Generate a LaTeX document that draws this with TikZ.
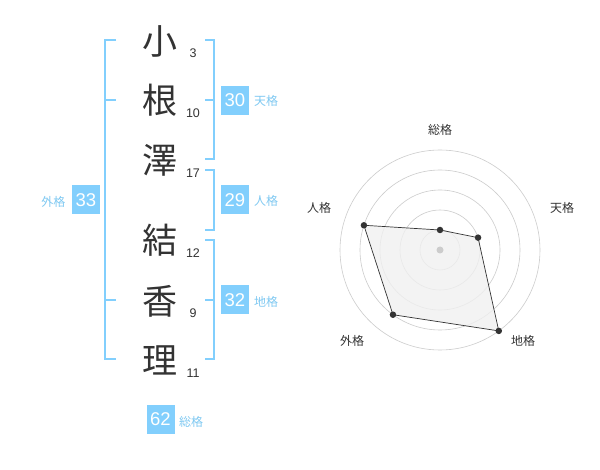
\documentclass[tikz,border=0pt]{standalone}
\usepackage{fontspec}
\setmainfont{Liberation Sans}
\newfontfamily\cjk{Noto Sans CJK JP}
\definecolor{skyb}{HTML}{82CFFD}
\definecolor{skyt}{HTML}{7FC9F2}
\definecolor{inkc}{HTML}{333333}
\definecolor{ringc}{HTML}{CCCCCC}
\definecolor{polyf}{HTML}{F0F0F0}
\tikzset{
  kanji/.style={text=inkc,font=\cjk\fontsize{35}{35}\selectfont,inner sep=0pt},
  stroke/.style={text=inkc,font=\fontsize{12.5}{12.5}\selectfont,inner sep=0pt},
  scorebox/.style={fill=skyb,text=white,minimum width=28pt,minimum height=29pt,inner sep=0pt,font=\fontsize{18.5}{18.5}\selectfont},
  kaku/.style={text=skyt,font=\cjk\fontsize{12}{12}\selectfont,inner sep=0pt},
  brk/.style={draw=skyb,line width=2pt},
  radarlab/.style={text=inkc,font=\cjk\fontsize{12}{12}\selectfont,inner sep=0pt},
  ring/.style={draw=ringc,line width=0.6pt},
  dot/.style={circle,fill=inkc,inner sep=0pt,minimum size=6.5pt},
}
\begin{document}
\begin{tikzpicture}[x=1pt,y=-1pt]
\useasboundingbox (0,0) rectangle (600,470);
\fill[white] (0,0) rectangle (600,470);
% characters
\node[kanji] (c1) at (160,41) {小};
\node[kanji] (c2) at (160,100) {根};
\node[kanji] (c3) at (160,160) {澤};
\node[kanji] (c4) at (160,240) {結};
\node[kanji] (c5) at (160,301) {香};
\node[kanji] (c6) at (160,360) {理};
\node[stroke] (n1) at (193,53) {3};
\node[stroke] (n2) at (193,113) {10};
\node[stroke] (n3) at (193,173) {17};
\node[stroke] (n4) at (193,253) {12};
\node[stroke] (n5) at (193,313) {9};
\node[stroke] (n6) at (193,373) {11};
% brackets
\draw[brk] (116,40) -- (105,40) -- (105,359) -- (116,359);
\draw[brk] (105,100) -- (116,100);
\draw[brk] (105,300) -- (116,300);
\draw[brk] (205,40) -- (214,40) -- (214,159) -- (205,159);
\draw[brk] (205,100) -- (214,100);
\draw[brk] (205,170) -- (214,170) -- (214,230) -- (205,230);
\draw[brk] (205,240) -- (214,240) -- (214,359) -- (205,359);
\draw[brk] (205,300) -- (214,300);
% score boxes
\node[scorebox] (ten) at (235,100.5) {30};
\node[kaku] (tenl) at (266,101) {天格};
\node[scorebox] (jin) at (235,200) {29};
\node[kaku] (jinl) at (266,201) {人格};
\node[scorebox] (chi) at (235,300) {32};
\node[kaku] (chil) at (266,302) {地格};
\node[scorebox] (gai) at (86,200) {33};
\node[kaku] (gail) at (53.5,202) {外格};
\node[scorebox] (sou) at (160.5,419) {62};
\node[kaku] (soul) at (191,422) {総格};
% radar
\coordinate (ctr) at (440,250);
\foreach \r in {20,40,60,80,100} \draw[ring] (ctr) circle[radius=\r];
\path (ctr) ++(0,-20) coordinate (pS);
\path (ctr) ++(-18:40) coordinate (pT);
\path (ctr) ++(54:100) coordinate (pC);
\path (ctr) ++(126:80) coordinate (pG);
\path (ctr) ++(198:80) coordinate (pJ);
\filldraw[fill=polyf,fill opacity=0.8,draw=inkc,line width=0.7pt] (pS) -- (pT) -- (pC) -- (pG) -- (pJ) -- cycle;
\fill[ringc] (ctr) circle[radius=3.5];
\foreach \p in {pS,pT,pC,pG,pJ} \node[dot] at (\p) {};
\node[radarlab] (rS) at (440,130) {総格};
\node[radarlab] (rT) at (562,208) {天格};
\node[radarlab] (rC) at (523,341) {地格};
\node[radarlab] (rG) at (352,341) {外格};
\node[radarlab] (rJ) at (319,208) {人格};
\end{tikzpicture}
\end{document}
